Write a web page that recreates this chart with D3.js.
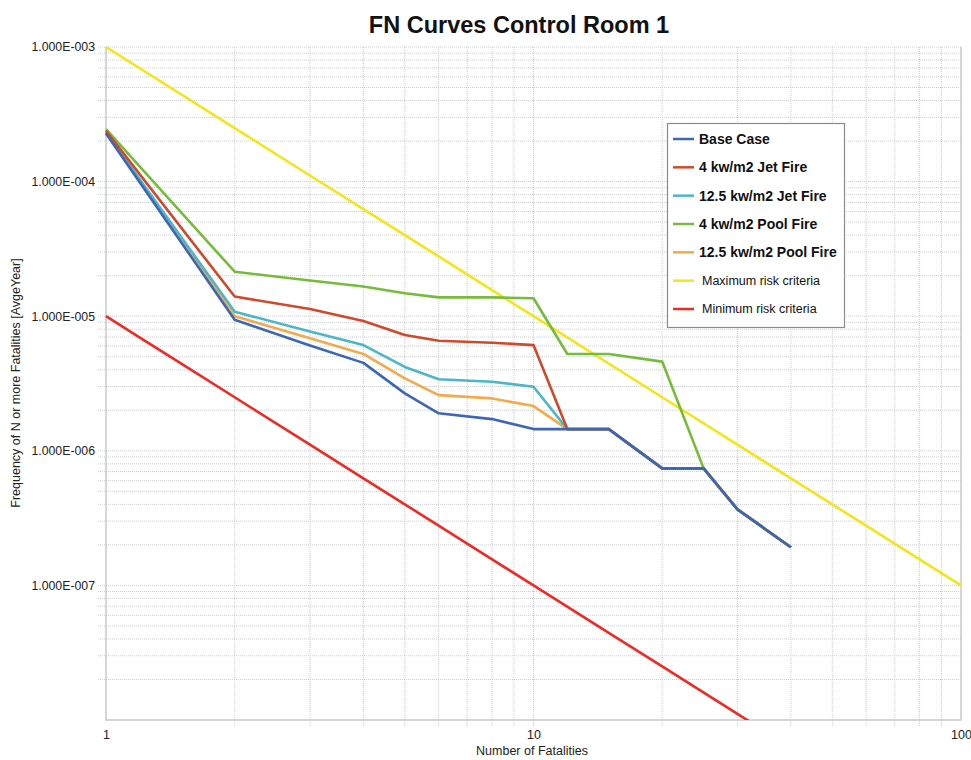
<!DOCTYPE html>
<html>
<head>
<meta charset="utf-8">
<script src="https://cdn.jsdelivr.net/npm/d3@7"></script>
<style>
  html, body { margin: 0; padding: 0; background: #fff; }
  svg { display: block; }
  text { font-family: "Liberation Sans", Arial, sans-serif; }
</style>
</head>
<body>
<svg id="chart" width="971" height="760"></svg>
<script>
// ---------------- DATA ----------------
const fatalities = [1, 2, 3, 4, 5, 6, 8, 10, 12, 15, 20, 25, 30, 40];
const baseCase   = [2.28e-4, 9.4e-6, 6.05e-6, 4.5e-6, 2.67e-6, 1.9e-6, 1.72e-6, 1.45e-6, 1.45e-6, 1.45e-6, 7.4e-7, 7.4e-7, 3.67e-7, 1.92e-7];
const jetFire4   = [2.38e-4, 1.4e-5, 1.13e-5, 9.2e-6, 7.24e-6, 6.57e-6, 6.35e-6, 6.1e-6, 1.45e-6, 1.45e-6, 7.4e-7, 7.4e-7, 3.67e-7, 1.92e-7];
const jetFire12  = [2.33e-4, 1.08e-5, 7.7e-6, 6.1e-6, 4.2e-6, 3.4e-6, 3.26e-6, 2.99e-6, 1.45e-6, 1.45e-6, 7.4e-7, 7.4e-7, 3.67e-7, 1.92e-7];
const poolFire4  = [2.45e-4, 2.14e-5, 1.84e-5, 1.66e-5, 1.48e-5, 1.38e-5, 1.38e-5, 1.36e-5, 5.24e-6, 5.24e-6, 4.6e-6, 7.4e-7, 3.67e-7, 1.92e-7];
const poolFire12 = [2.31e-4, 1.0e-5, 6.86e-6, 5.24e-6, 3.45e-6, 2.59e-6, 2.45e-6, 2.15e-6, 1.45e-6, 1.45e-6, 7.4e-7, 7.4e-7, 3.67e-7, 1.92e-7];

const maxCritN = [1, 2, 3, 4, 5, 6, 8, 10, 20, 30, 40, 50, 60, 80, 100];
const maxCritF = [1e-3, 2.5e-4, 1.11e-4, 6.25e-5, 4e-5, 2.78e-5, 1.56e-5, 1e-5, 2.5e-6, 1.11e-6, 6.25e-7, 4e-7, 2.78e-7, 1.56e-7, 1e-7];
const minCritN = [1, 1.2, 1.5, 2, 3, 4, 5, 6, 8, 10, 15, 20, 30, 40];
const minCritF = [1e-5, 6.94e-6, 4.44e-6, 2.5e-6, 1.11e-6, 6.25e-7, 4e-7, 2.78e-7, 1.56e-7, 1e-7, 4.44e-8, 2.5e-8, 1.11e-8, 6.25e-9];

const seriesNames = ["Base Case", "4 kw/m2 Jet Fire", "12.5 kw/m2 Jet Fire", "4 kw/m2 Pool Fire", "12.5 kw/m2 Pool Fire", "Maximum risk criteria", "Minimum risk criteria"];

const xTickValues = [1, 10, 100];
const xTickLabels = ["1", "10", "100"];
const yTickValues = [1e-3, 1e-4, 1e-5, 1e-6, 1e-7];
const yTickLabels = ["1.000E-003", "1.000E-004", "1.000E-005", "1.000E-006", "1.000E-007"];

const titleText = "FN Curves Control Room 1";
const xAxisTitle = "Number of Fatalities";
const yAxisTitle = "Frequency of N or more Fatalities [AvgeYear]";

// ---------------- LAYOUT ----------------
const mLeft = 106, mRight = 961, mTop = 47, mBottom = 720;
const colors = ["#3d66b6", "#cf4a2b", "#4bb6c8", "#77bb3a", "#f2aa4c", "#f4e519", "#ee2a24"];

const svg = d3.select("#chart");
const x = d3.scaleLog().domain([1, 100]).range([mLeft, mRight]);
const y = d3.scaleLog().domain([1e-8, 1e-3]).range([mBottom, mTop]);

// ---------------- GRID ----------------
const gridColor = "#c9cdd2";
const xMinor = [];
for (let d = 1; d < 100; d *= 10) for (let k = 1; k <= 9; k++) { if (d * k > 1) xMinor.push(d * k); }
const yMinor = [];
for (let e = -8; e < -3; e++) for (let k = 1; k <= 9; k++) yMinor.push(k * Math.pow(10, e));
yMinor.push(1e-3);

const grid = svg.append("g");
grid.selectAll("line.v").data(xMinor.filter(v => v < 100)).enter().append("line")
  .attr("x1", d => x(d)).attr("x2", d => x(d))
  .attr("y1", mTop).attr("y2", mBottom + 7)
  .attr("stroke", gridColor).attr("stroke-width", 1).attr("stroke-dasharray", "1,1");
grid.selectAll("line.h").data(yMinor.filter(v => v > 1e-8)).enter().append("line")
  .attr("x1", mLeft - 8).attr("x2", mRight)
  .attr("y1", d => y(d)).attr("y2", d => y(d))
  .attr("stroke", gridColor).attr("stroke-width", 1).attr("stroke-dasharray", "1,1");

// plot border
svg.append("path")
  .attr("d", `M${mLeft},${mTop}V${mBottom}H${mRight}V${mTop}`)
  .attr("fill", "none").attr("stroke", "#c6c9cc").attr("stroke-width", 1.5);

// ---------------- AXES ----------------
const xAxis = d3.axisBottom(x).tickValues(xTickValues).tickFormat((d, i) => xTickLabels[i]).tickSize(0).tickPadding(10);
const gx = svg.append("g").attr("transform", `translate(0,${mBottom})`).call(xAxis);
gx.select(".domain").remove();
gx.selectAll("text").attr("font-size", 12.5).attr("fill", "#222").style("font-family", "'Liberation Sans', Arial, sans-serif");

const yAxis = d3.axisLeft(y).tickValues(yTickValues).tickFormat((d, i) => yTickLabels[i]).tickSize(0).tickPadding(11);
const gy = svg.append("g").attr("transform", `translate(${mLeft},0)`).call(yAxis);
gy.select(".domain").remove();
gy.selectAll("text").attr("font-size", 12.3).attr("fill", "#222").style("font-family", "'Liberation Sans', Arial, sans-serif");

// ---------------- LINES ----------------
svg.append("clipPath").attr("id", "plotclip").append("rect")
  .attr("x", mLeft - 2).attr("y", mTop - 2).attr("width", mRight - mLeft + 4).attr("height", mBottom - mTop + 2);

const line = d3.line().x(d => x(d[0])).y(d => y(d[1]));
const lines = svg.append("g").attr("clip-path", "url(#plotclip)");

const drawSeries = (ns, fs, color, w) => {
  lines.append("path").datum(ns.map((n, i) => [n, fs[i]]))
    .attr("d", line).attr("fill", "none").attr("stroke", color)
    .attr("stroke-width", w).attr("stroke-linejoin", "round");
};
drawSeries(maxCritN, maxCritF, colors[5], 2.6);
drawSeries(minCritN, minCritF, colors[6], 2.6);
drawSeries(fatalities, poolFire12, colors[4], 2.6);
drawSeries(fatalities, jetFire12, colors[2], 2.6);
drawSeries(fatalities, poolFire4, colors[3], 2.6);
drawSeries(fatalities, jetFire4, colors[1], 2.6);
drawSeries(fatalities, baseCase, colors[0], 2.6);

// ---------------- TITLES ----------------
svg.append("text").attr("x", 519).attr("y", 33).attr("text-anchor", "middle")
  .attr("font-size", 23.5).attr("font-weight", "bold").attr("fill", "#111").text(titleText);
svg.append("text").attr("x", 532).attr("y", 755).attr("text-anchor", "middle")
  .attr("font-size", 12.5).attr("fill", "#222").text(xAxisTitle);
svg.append("text").attr("transform", `translate(20,383) rotate(-90)`).attr("text-anchor", "middle")
  .attr("font-size", 12.5).attr("fill", "#222").text(yAxisTitle);

// ---------------- LEGEND ----------------
const lg = svg.append("g");
lg.append("rect").attr("x", 667.5).attr("y", 123.5).attr("width", 177).attr("height", 204)
  .attr("fill", "#fff").attr("stroke", "#8a8a8a").attr("stroke-width", 1.2);
const legendY = d3.scaleLinear().domain([0, 6]).range([139, 309]);
seriesNames.forEach((name, i) => {
  const yy = legendY(i);
  lg.append("line").attr("x1", 673).attr("x2", 694).attr("y1", yy).attr("y2", yy)
    .attr("stroke", colors[i]).attr("stroke-width", 2.5);
  const bold = i < 5;
  lg.append("text").attr("x", bold ? 699 : 702).attr("y", yy + (bold ? 5 : 4.3))
    .attr("font-size", bold ? 14 : 12.5).attr("font-weight", bold ? "bold" : "normal")
    .attr("fill", "#111").text(name);
});
</script>
</body>
</html>
